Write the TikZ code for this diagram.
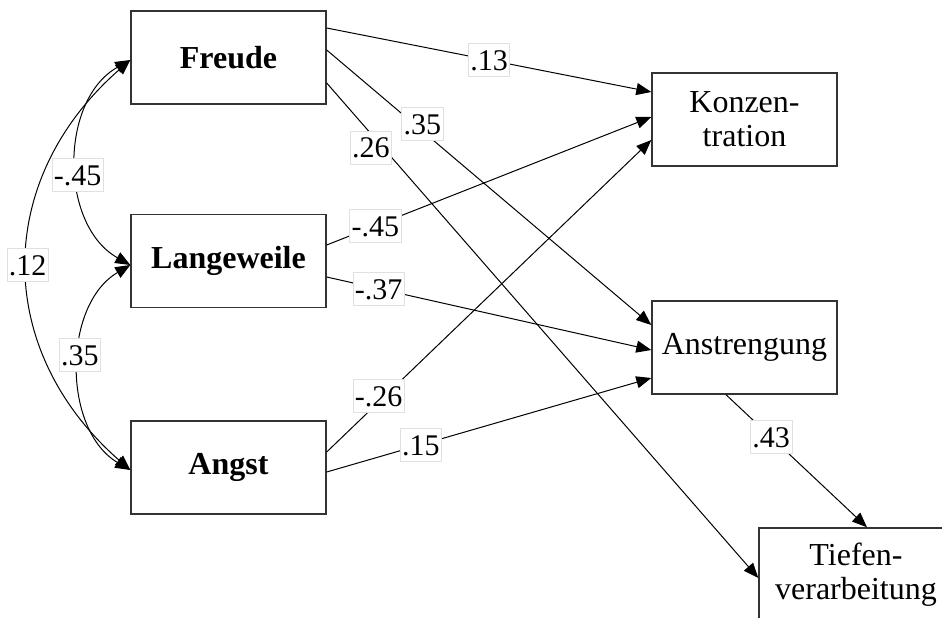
\documentclass[tikz,border=0pt]{standalone}
\usepackage{fontspec}
\setmainfont{Liberation Serif}
\usetikzlibrary{arrows.meta}
\begin{document}
\begin{tikzpicture}[x=1pt,y=-1pt,
  var/.style={draw=black!80, line width=1.4pt, fill=white, minimum height=93pt,
    inner sep=0pt, align=center, font=\fontsize{32}{34}\selectfont},
  emotion/.style={var, minimum width=195pt, font=\fontsize{32}{34}\selectfont\bfseries},
  outcome/.style={var, minimum width=185pt},
  tip/.tip={Triangle[length=15pt,width=12pt]},
  effect/.style={line width=1pt, -tip},
  corr/.style={line width=1pt, tip-tip},
  coef/.style={fill=white, draw=black!12, line width=0.6pt, inner xsep=2pt,
    inner ysep=0pt, text height=27pt, text depth=6pt, font=\fontsize{30}{32}\selectfont},
]
\useasboundingbox (0,0) rectangle (942,618);

% predictors
\node[emotion] (freude) at (228.5,57.5) {Freude};
\node[emotion] (lange)  at (228.5,261)  {Langeweile};
\node[emotion] (angst)  at (228.5,467.5) {Angst};

% outcomes
\node[outcome] (konz)   at (744.5,119.5) {Konzen-\\tration};
\node[outcome] (anstr)  at (744.5,347.5) {Anstrengung};
\node[outcome, minimum width=194pt] (tiefen) at (856,574.5) {Tiefen-\\verarbeitung};

% correlations among the emotions
\draw[corr] ([yshift=-2.5pt]freude.west) .. controls +(-71,40) and +(-71,-40) ..
  ([yshift=-4pt]lange.west) node[coef, pos=0.55] {-.45};
\draw[corr] ([yshift=-4pt]lange.west) .. controls +(-68,40) and +(-68,-40) ..
  ([yshift=-2.5pt]angst.west) node[coef, pos=0.45] {.35};
\draw[corr] ([yshift=-2.5pt]freude.west) .. controls +(-137,120) and +(-137,-120) ..
  ([yshift=-2.5pt]angst.west) node[coef, pos=0.5] {.12};

% paths from Freude
\draw[effect] ([yshift=29.5pt]freude.east) -- ([yshift=27.5pt]konz.west)
  node[coef, pos=0.5] {.13};
\draw[effect] ([yshift=7.5pt]freude.east) -- ([yshift=22.5pt]anstr.west)
  node[coef, pos=0.27, xshift=8pt] {.35};
\draw[effect] ([yshift=-25.5pt]freude.east) -- ([yshift=-3.5pt]tiefen.west)
  node[coef, pos=0.13, xshift=-12pt] {.26};

% paths from Langeweile
\draw[effect] ([yshift=16pt]lange.east) -- ([yshift=2.5pt]konz.west)
  node[coef, pos=0.15] {-.45};
\draw[effect] ([yshift=-16pt]lange.east) -- ([yshift=-2.5pt]anstr.west)
  node[coef, pos=0.16] {-.37};

% paths from Angst
\draw[effect] ([yshift=15.5pt]angst.east) -- ([yshift=-20.5pt]konz.west)
  node[coef, pos=0.16, yshift=6pt] {-.26};
\draw[effect] ([yshift=-4.5pt]angst.east) -- ([yshift=-30.5pt]anstr.west)
  node[coef, pos=0.29] {.15};

% Anstrengung to Tiefenverarbeitung
\draw[effect] ([xshift=-18.5pt]anstr.south) -- ([xshift=11pt]tiefen.north)
  node[coef, pos=0.32] {.43};
\end{tikzpicture}
\end{document}
